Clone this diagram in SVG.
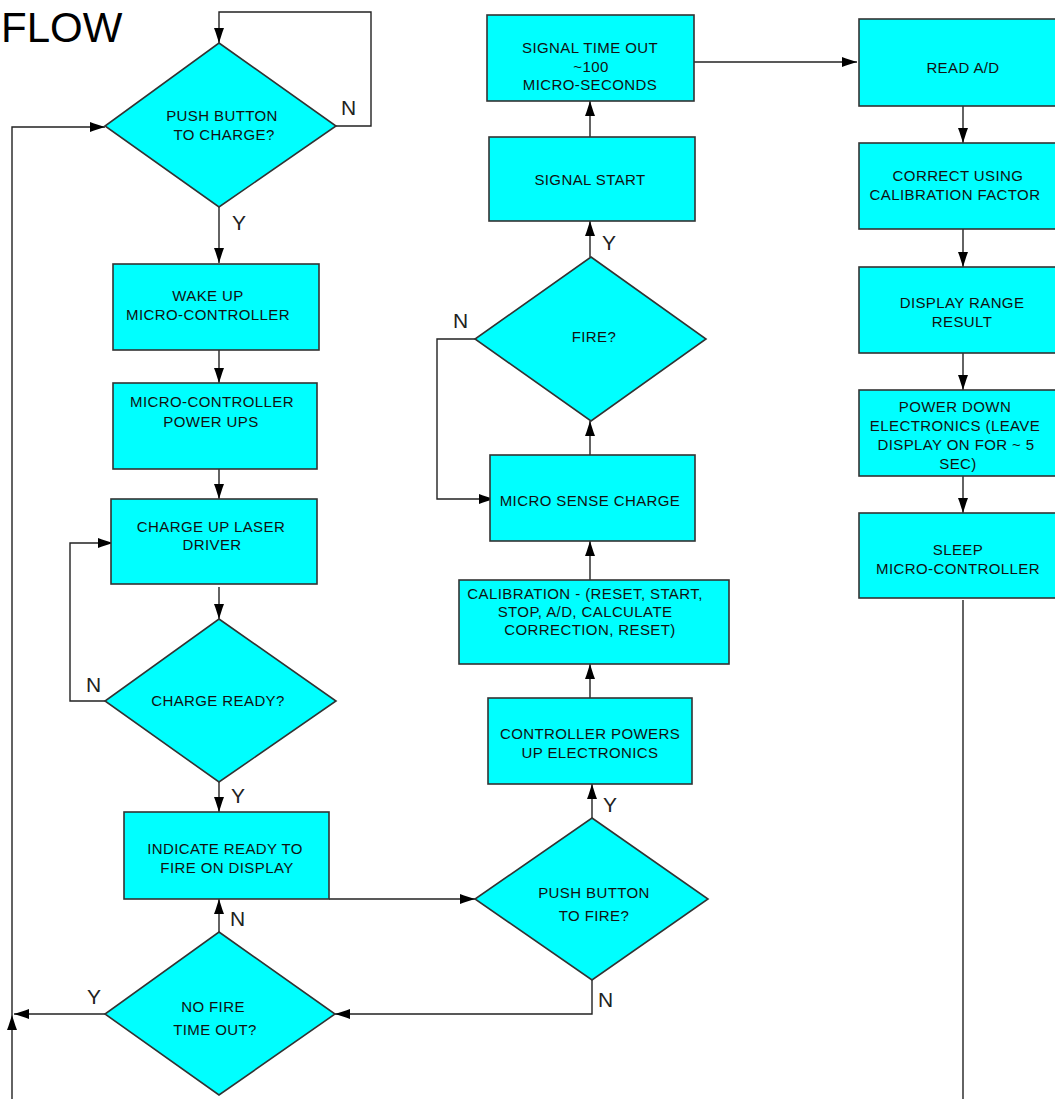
<svg xmlns="http://www.w3.org/2000/svg" width="1055" height="1099" viewBox="0 0 1055 1099">
<defs>
<marker id="arr" viewBox="0 0 15 10" refX="15" refY="5" markerWidth="15" markerHeight="10" markerUnits="userSpaceOnUse" orient="auto">
<path d="M0,0 L4,1.5 L15,5 L4,8.5 L0,10 Z" fill="#000"/>
</marker>
<style>
.box{fill:#00FFFF;stroke:#333;stroke-width:1.6}
.t{font-family:"Liberation Sans",Arial,sans-serif;font-size:15px;fill:#111;text-anchor:middle;letter-spacing:0.4px}
.lbl{font-family:"Liberation Sans",Arial,sans-serif;font-size:21px;fill:#222}
.c{fill:none;stroke:#222;stroke-width:1.4}
.ca{fill:none;stroke:#222;stroke-width:1.4;marker-end:url(#arr)}
</style>
</defs>
<rect width="1055" height="1099" fill="#fff"/>
<text x="1" y="42" font-family="'Liberation Sans',Arial,sans-serif" font-size="42" fill="#000">FLOW</text>

<g id="connectors">
<path class="ca" d="M336,126 H371 V12 H219 V43"/>
<path class="ca" d="M219,207 V263"/>
<path class="ca" d="M219,350 V383"/>
<path class="ca" d="M219,469 V499"/>
<path class="ca" d="M219,587 V619"/>
<path class="ca" d="M105,701 H70 V543 H113"/>
<path class="ca" d="M219,782 V812"/>
<path class="ca" d="M329,899 H475"/>
<path class="ca" d="M592,818 V784"/>
<path class="ca" d="M590,698 V664"/>
<path class="ca" d="M590,580 V541"/>
<path class="ca" d="M590,455 V421"/>
<path class="ca" d="M475,339 H437 V499 H494"/>
<path class="ca" d="M590,257 V221"/>
<path class="ca" d="M590,137 V101"/>
<path class="ca" d="M694,62 H857"/>
<path class="ca" d="M963,106 V143"/>
<path class="ca" d="M963,229 V267"/>
<path class="ca" d="M963,353 V390"/>
<path class="ca" d="M963,476 V513"/>
<path class="c" d="M963,600 V1099"/>
<path class="ca" d="M592,980 V1014 H335"/>
<path class="ca" d="M219,932 V899"/>
<path class="ca" d="M105,1014 H14"/>
<path class="ca" d="M12,1099 V1015"/>
<path class="ca" d="M12,1015 V127 H105"/>
<text class="lbl" x="341" y="115">N</text>
<text class="lbl" x="232" y="230">Y</text>
<text class="lbl" x="86" y="692">N</text>
<text class="lbl" x="231" y="803">Y</text>
<text class="lbl" x="230" y="926">N</text>
<text class="lbl" x="87" y="1004">Y</text>
<text class="lbl" x="598" y="1007">N</text>
<text class="lbl" x="603" y="812">Y</text>
<text class="lbl" x="602" y="250">Y</text>
<text class="lbl" x="453" y="328">N</text>
</g>

<g id="push-charge">
<polygon class="box" points="219,43 336,126 219,207 105,126"/>
<text class="t" x="222" y="121">PUSH BUTTON</text>
<text class="t" x="224" y="140">TO CHARGE?</text>
</g>
<g id="wake-up">
<rect class="box" x="113" y="264" width="206" height="86"/>
<text class="t" x="208" y="301">WAKE UP</text>
<text class="t" x="208" y="320">MICRO-CONTROLLER</text>
</g>
<g id="power-ups">
<rect class="box" x="113" y="383" width="204" height="86"/>
<text class="t" x="212" y="407">MICRO-CONTROLLER</text>
<text class="t" x="211" y="427">POWER UPS</text>
</g>
<g id="charge-laser">
<rect class="box" x="111" y="499" width="206" height="85"/>
<text class="t" x="211" y="532">CHARGE UP LASER</text>
<text class="t" x="212" y="550">DRIVER</text>
</g>
<g id="charge-ready">
<polygon class="box" points="219,619 336,701 219,782 105,701"/>
<text class="t" x="218" y="706">CHARGE READY?</text>
</g>
<g id="indicate-ready">
<rect class="box" x="124" y="812" width="205" height="87"/>
<text class="t" x="225" y="854">INDICATE READY TO</text>
<text class="t" x="227" y="873">FIRE ON DISPLAY</text>
</g>
<g id="no-fire-timeout">
<polygon class="box" points="219,932 335,1014 219,1095 105,1014"/>
<text class="t" x="213" y="1012">NO FIRE</text>
<text class="t" x="215" y="1035">TIME OUT?</text>
</g>

<g id="signal-timeout">
<rect class="box" x="487" y="15" width="207" height="86"/>
<text class="t" x="590" y="53">SIGNAL TIME OUT</text>
<text class="t" x="591" y="72">~100</text>
<text class="t" x="590" y="90">MICRO-SECONDS</text>
</g>
<g id="signal-start">
<rect class="box" x="489" y="137" width="206" height="84"/>
<text class="t" x="590" y="185">SIGNAL START</text>
</g>
<g id="fire">
<polygon class="box" points="591,257 706,339 591,421 475,339"/>
<text class="t" x="594" y="342">FIRE?</text>
</g>
<g id="micro-sense">
<rect class="box" x="490" y="455" width="205" height="86"/>
<text class="t" x="590" y="506">MICRO SENSE CHARGE</text>
</g>
<g id="calibration">
<rect class="box" x="459" y="580" width="270" height="84"/>
<text class="t" x="585" y="599">CALIBRATION - (RESET, START,</text>
<text class="t" x="585" y="617">STOP, A/D, CALCULATE</text>
<text class="t" x="590" y="635">CORRECTION, RESET)</text>
</g>
<g id="controller-powers">
<rect class="box" x="488" y="698" width="204" height="86"/>
<text class="t" x="590" y="739">CONTROLLER POWERS</text>
<text class="t" x="590" y="758">UP ELECTRONICS</text>
</g>
<g id="push-fire">
<polygon class="box" points="592,818 708,899 592,980 475,899"/>
<text class="t" x="594" y="898">PUSH BUTTON</text>
<text class="t" x="594" y="921">TO FIRE?</text>
</g>

<g id="read-ad">
<rect class="box" x="859" y="19" width="199" height="87"/>
<text class="t" x="963" y="73">READ A/D</text>
</g>
<g id="correct">
<rect class="box" x="859" y="143" width="199" height="86"/>
<text class="t" x="958" y="181">CORRECT USING</text>
<text class="t" x="955" y="200">CALIBRATION FACTOR</text>
</g>
<g id="display-range">
<rect class="box" x="859" y="267" width="199" height="86"/>
<text class="t" x="962" y="308">DISPLAY RANGE</text>
<text class="t" x="962" y="327">RESULT</text>
</g>
<g id="power-down">
<rect class="box" x="859" y="390" width="199" height="86"/>
<text class="t" x="955" y="412">POWER DOWN</text>
<text class="t" x="955" y="431">ELECTRONICS (LEAVE</text>
<text class="t" x="956" y="450">DISPLAY ON FOR ~ 5</text>
<text class="t" x="958" y="469">SEC)</text>
</g>
<g id="sleep">
<rect class="box" x="859" y="513" width="199" height="85"/>
<text class="t" x="958" y="555">SLEEP</text>
<text class="t" x="958" y="574">MICRO-CONTROLLER</text>
</g>
</svg>
